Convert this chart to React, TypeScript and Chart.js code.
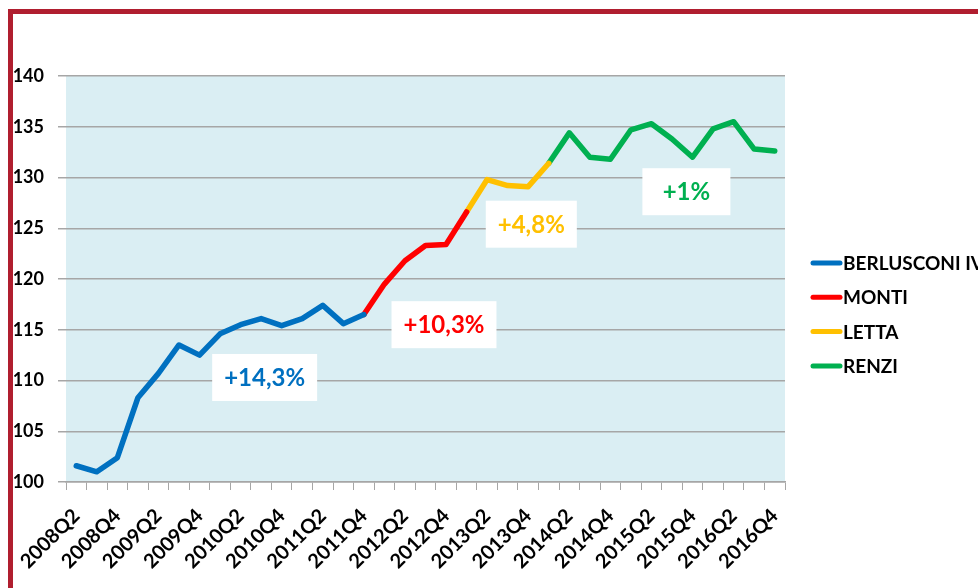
import React, { useEffect, useRef } from "react";
import { Chart, registerables } from "chart.js";

Chart.register(...registerables);

const quarters = [
  "2008Q2", "2008Q3", "2008Q4",
  "2009Q1", "2009Q2", "2009Q3", "2009Q4",
  "2010Q1", "2010Q2", "2010Q3", "2010Q4",
  "2011Q1", "2011Q2", "2011Q3", "2011Q4",
  "2012Q1", "2012Q2", "2012Q3", "2012Q4",
  "2013Q1", "2013Q2", "2013Q3", "2013Q4",
  "2014Q1", "2014Q2", "2014Q3", "2014Q4",
  "2015Q1", "2015Q2", "2015Q3", "2015Q4",
  "2016Q1", "2016Q2", "2016Q3", "2016Q4",
];

const indexValues = [
  101.6, 101.0, 102.4,
  108.3, 110.7, 113.5, 112.5,
  114.6, 115.5, 116.1, 115.4,
  116.1, 117.4, 115.6, 116.5,
  119.5, 121.8, 123.3, 123.4,
  126.6, 129.8, 129.2, 129.1,
  131.4, 134.4, 132.0, 131.8,
  134.7, 135.3, 133.8, 132.0,
  134.8, 135.5, 132.8, 132.6,
];

const governments = ["BERLUSCONI IV", "MONTI", "LETTA", "RENZI"];
const govColors = ["#0070C0", "#FF0000", "#FFC000", "#00B050"];
const govStart = [0, 14, 19, 23];
const govEnd = [14, 19, 23, 34];

const growthLabels = ["+14,3%", "+10,3%", "+4,8%", "+1%"];
const growthAtIndex = [9.17, 17.9, 22.15, 29.7];
const growthAtValue = [110.3, 115.5, 125.4, 128.6];

const yMin = 100;
const yMax = 140;
const yStep = 5;

const FONT = "Lato, 'Open Sans', 'DejaVu Sans', sans-serif";

const plotBgPlugin = {
  id: "plotBg",
  beforeDraw(chart: any) {
    const { ctx, chartArea } = chart;
    ctx.save();
    ctx.fillStyle = "#DAEEF3";
    ctx.fillRect(chartArea.left, chartArea.top, chartArea.right - chartArea.left, chartArea.bottom - chartArea.top);
    ctx.restore();
  },
};

const growthPlugin = {
  id: "growthBoxes",
  afterDatasetsDraw(chart: any) {
    const { ctx, scales } = chart;
    ctx.save();
    ctx.font = `bold 24px ${FONT}`;
    ctx.textAlign = "center";
    ctx.textBaseline = "middle";
    growthLabels.forEach((txt, i) => {
      const cx = scales.x.getPixelForValue(growthAtIndex[i]);
      const cy = scales.y.getPixelForValue(growthAtValue[i]);
      const tw = ctx.measureText(txt).width;
      const w = Math.max(tw + 24, 88);
      const h = 47;
      ctx.fillStyle = "#FFFFFF";
      ctx.fillRect(cx - w / 2, cy - h / 2, w, h);
      ctx.fillStyle = govColors[i];
      ctx.fillText(txt, cx, cy + 1);
    });
    ctx.restore();
  },
};

const legendPlugin = {
  id: "sideLegend",
  afterDraw(chart: any) {
    const { ctx } = chart;
    ctx.save();
    ctx.font = `bold 19px ${FONT}`;
    ctx.textAlign = "left";
    ctx.textBaseline = "middle";
    chart.data.datasets.forEach((ds: any, i: number) => {
      const y = 249 + i * 34.3;
      ctx.strokeStyle = ds.borderColor;
      ctx.lineWidth = 5;
      ctx.lineCap = "round";
      ctx.beginPath();
      ctx.moveTo(800, y);
      ctx.lineTo(827, y);
      ctx.stroke();
      ctx.fillStyle = "#000000";
      ctx.fillText(ds.label, 830, y + 1);
    });
    ctx.restore();
  },
};

export default function App() {
  const canvasRef = useRef<HTMLCanvasElement | null>(null);

  useEffect(() => {
    if (!canvasRef.current) return;
    const datasets = governments.map((name, g) => ({
      label: name,
      data: indexValues.map((v, i) => (i >= govStart[g] && i <= govEnd[g] ? v : null)),
      borderColor: govColors[g],
      backgroundColor: govColors[g],
      borderWidth: 5.5,
      borderJoinStyle: "round" as const,
      borderCapStyle: "round" as const,
      pointRadius: 0,
      pointHoverRadius: 0,
      tension: 0,
      spanGaps: false,
      fill: false,
    }));

    const chart = new Chart(canvasRef.current, {
      type: "line",
      data: { labels: quarters, datasets },
      options: {
        animation: false,
        responsive: false,
        maintainAspectRatio: false,
        layout: { padding: { top: 62, right: 193, left: 0, bottom: 0 } },
        plugins: {
          legend: { display: false },
          tooltip: { enabled: false },
          title: { display: false },
        },
        scales: {
          x: {
            type: "category",
            offset: true,
            grid: {
              offset: true,
              drawOnChartArea: false,
              drawTicks: true,
              tickLength: 8,
              color: "#A6A6A6",
              lineWidth: 1,
            },
            border: { display: true, color: "#A6A6A6", width: 1.5 },
            ticks: {
              autoSkip: false,
              maxRotation: 45,
              minRotation: 45,
              padding: 14,
              color: "#000000",
              font: { family: FONT, size: 20, weight: "bold" },
              callback: (_v: any, i: number) => (i % 2 === 0 ? quarters[i] : ""),
            },
            afterFit: (scale: any) => {
              scale.height = 106;
              scale.paddingLeft = 0;
              scale.paddingRight = 0;
            },
          },
          y: {
            min: yMin,
            max: yMax,
            grid: {
              color: "#A6A6A6",
              lineWidth: 1.5,
              drawTicks: true,
              tickLength: 8,
            },
            border: { display: false },
            ticks: {
              stepSize: yStep,
              padding: 14,
              color: "#000000",
              font: { family: FONT, size: 18, weight: "bold" },
            },
            afterFit: (scale: any) => {
              scale.width = 53;
              scale.paddingTop = 0;
              scale.paddingBottom = 0;
            },
          },
        },
      },
      plugins: [plotBgPlugin, growthPlugin, legendPlugin],
    });
    return () => chart.destroy();
  }, []);

  return (
    <div
      style={{
        position: "fixed",
        left: 8,
        top: 9,
        right: 0,
        bottom: 0,
        borderLeft: "5px solid #B01E2F",
        borderTop: "5px solid #B01E2F",
        background: "#FFFFFF",
        overflow: "hidden",
      }}
    >
      <canvas ref={canvasRef} width={965} height={574} style={{ display: "block", width: 965, height: 574 }} />
    </div>
  );
}
